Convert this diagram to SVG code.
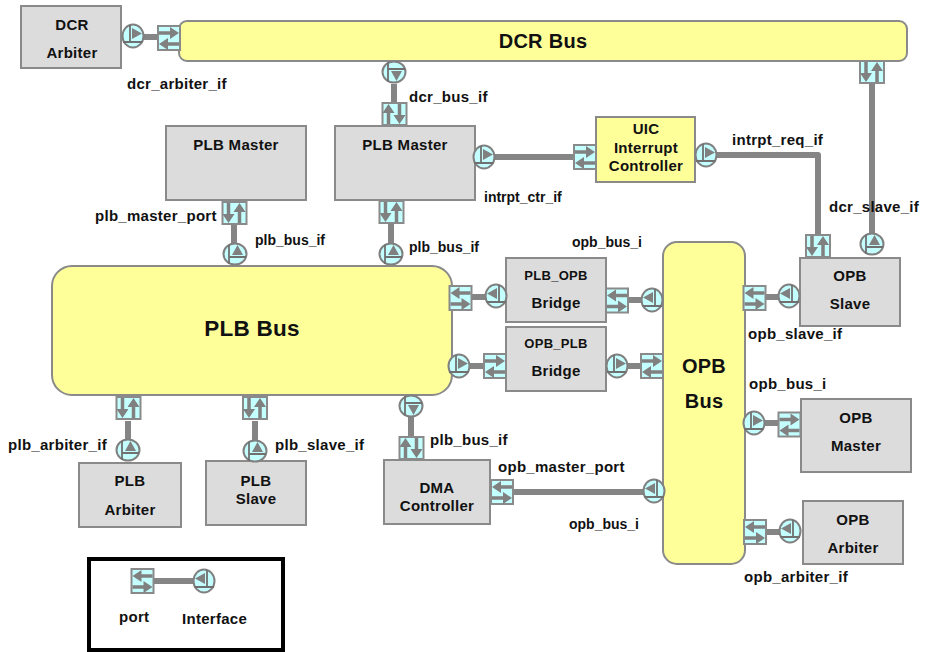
<svg xmlns="http://www.w3.org/2000/svg" xmlns:xlink="http://www.w3.org/1999/xlink" width="926" height="652" viewBox="0 0 926 652">
<style>
text{font-family:"Liberation Sans",Arial,Helvetica,sans-serif;font-weight:bold;font-size:15px;letter-spacing:.28px;fill:#111}
text.s{font-size:14px;letter-spacing:0}
.m{text-anchor:middle}
.box{fill:#dcdcdc;stroke:#8a8a8a;stroke-width:2}
.bus{fill:#ffff99;stroke:#8a8a8a;stroke-width:2}
.c{fill:none;stroke:#858585;stroke-width:6;stroke-linejoin:round}
.pb{fill:#c4ffff;stroke:#8a8a8a;stroke-width:2}
.ar{fill:none;stroke:#808080;stroke-width:3.500}
.ah{fill:#808080;stroke:none}
.ib{fill:#c4ffff;stroke:#808080;stroke-width:2}
.il{fill:none;stroke:#707070;stroke-width:1.800}
</style>
<defs>
<g id="pr"><rect class="pb" x="-11" y="-12" width="22" height="24"/><path class="ar" d="M-10,-5H3M10,6H-3"/><path class="ah" d="M1,-11L10,-5L1,1ZM-1,0L-10,6L-1,12Z"/></g>
<g id="pl"><use xlink:href="#pr" transform="scale(-1,1)"/></g>
<g id="ir"><ellipse class="ib" cx="0" cy="0" rx="10.500" ry="11.500"/><path class="ah" d="M-1,-8L9,-2.500L-1,3Z"/><path class="il" d="M-3,-11V6M-10,6H9.500"/></g>
<g id="il"><use xlink:href="#ir" transform="scale(-1,1)"/></g>
</defs>

<g id="connectors">
<path class="c" d="M143,37H158"/>
<path class="c" d="M394,84V102"/>
<path class="c" d="M494,157H574"/>
<path class="c" d="M716,155H818V234"/>
<path class="c" d="M872,84V233"/>
<path class="c" d="M234,225V243"/>
<path class="c" d="M391,224V243"/>
<path class="c" d="M472,297H486"/>
<path class="c" d="M628,300H642"/>
<path class="c" d="M469,366H484"/>
<path class="c" d="M627,366H641"/>
<path class="c" d="M766,297H778"/>
<path class="c" d="M128,421V439"/>
<path class="c" d="M255,421V440"/>
<path class="c" d="M411,417V436"/>
<path class="c" d="M513,492H644"/>
<path class="c" d="M765,423H778"/>
<path class="c" d="M766,532H780"/>
<path class="c" d="M154,581H194"/>
</g>

<g id="dcr-arbiter"><rect class="box" x="21" y="6" width="100" height="62"/><text class="m" x="72" y="30">DCR</text><text class="m" x="72" y="58">Arbiter</text></g>
<g id="dcr-bus"><rect class="bus" x="179" y="21" width="728" height="40" rx="8"/><text class="m" x="543" y="48" style="font-size:20px">DCR Bus</text></g>
<g id="plb-master-1"><rect class="box" x="166" y="126" width="140" height="74"/><text class="m" x="236" y="150">PLB Master</text></g>
<g id="plb-master-2"><rect class="box" x="335" y="126" width="140" height="74"/><text class="m" x="405" y="150">PLB Master</text></g>
<g id="uic"><rect class="bus" x="596" y="117" width="99" height="65"/><text class="m" x="646" y="134">UIC</text><text class="m" x="646" y="153">Interrupt</text><text class="m" x="646" y="171">Controller</text></g>
<g id="plb-bus"><rect class="bus" x="52" y="266" width="400" height="129" rx="20"/><text class="m" x="252" y="336" style="font-size:22.500px">PLB Bus</text></g>
<g id="plb-opb"><rect class="box" x="506" y="258" width="100" height="64"/><text class="m" x="556" y="280" style="font-size:13px">PLB_OPB</text><text class="m" x="556" y="308">Bridge</text></g>
<g id="opb-plb"><rect class="box" x="506" y="327" width="100" height="64"/><text class="m" x="556" y="348" style="font-size:13px">OPB_PLB</text><text class="m" x="556" y="376">Bridge</text></g>
<g id="opb-bus"><rect class="bus" x="663" y="242" width="82" height="322" rx="14"/><text class="m" x="704" y="373" style="font-size:20px">OPB</text><text class="m" x="704" y="408" style="font-size:20px">Bus</text></g>
<g id="opb-slave"><rect class="box" x="800" y="258" width="100" height="68"/><text class="m" x="850" y="281">OPB</text><text class="m" x="850" y="309">Slave</text></g>
<g id="opb-master"><rect class="box" x="801" y="399" width="110" height="73"/><text class="m" x="856" y="423">OPB</text><text class="m" x="856" y="451">Master</text></g>
<g id="opb-arbiter"><rect class="box" x="803" y="501" width="100" height="63"/><text class="m" x="853" y="525">OPB</text><text class="m" x="853" y="553">Arbiter</text></g>
<g id="plb-arbiter"><rect class="box" x="79" y="463" width="102" height="64"/><text class="m" x="130" y="486">PLB</text><text class="m" x="130" y="515">Arbiter</text></g>
<g id="plb-slave"><rect class="box" x="206" y="461" width="100" height="64"/><text class="m" x="256" y="486">PLB</text><text class="m" x="256" y="504">Slave</text></g>
<g id="dma"><rect class="box" x="384" y="460" width="106" height="64"/><text class="m" x="437" y="493">DMA</text><text class="m" x="437" y="511">Controller</text></g>
<g id="legend"><rect x="89" y="559" width="194" height="91" fill="none" stroke="#000" stroke-width="4"/><text x="119" y="622">port</text><text x="182" y="624">Interface</text></g>

<g id="ports">
<use xlink:href="#pr" transform="translate(169,38)"/>
<use xlink:href="#pr" transform="translate(394.500,114) rotate(90)"/>
<use xlink:href="#pr" transform="translate(585,157)"/>
<use xlink:href="#pl" transform="translate(872,72) rotate(90)"/>
<use xlink:href="#pl" transform="translate(818,246) rotate(90)"/>
<use xlink:href="#pl" transform="translate(234.500,213) rotate(90)"/>
<use xlink:href="#pl" transform="translate(391.500,212) rotate(90)"/>
<use xlink:href="#pl" transform="translate(460.500,298)"/>
<use xlink:href="#pl" transform="translate(617,300.500)"/>
<use xlink:href="#pr" transform="translate(495,366)"/>
<use xlink:href="#pr" transform="translate(652,366)"/>
<use xlink:href="#pl" transform="translate(754.500,298)"/>
<use xlink:href="#pl" transform="translate(128.500,408) rotate(90)"/>
<use xlink:href="#pl" transform="translate(255,408) rotate(90)"/>
<use xlink:href="#pr" transform="translate(411.500,448) rotate(90)"/>
<use xlink:href="#pl" transform="translate(502,492)"/>
<use xlink:href="#pr" transform="translate(789.500,424.500)"/>
<use xlink:href="#pl" transform="translate(755,532)"/>
<use xlink:href="#pl" transform="translate(142.500,581)"/>
</g>

<g id="interfaces">
<use xlink:href="#ir" transform="translate(133,36)"/>
<use xlink:href="#ir" transform="translate(394,72) rotate(90)"/>
<use xlink:href="#ir" transform="translate(484,157)"/>
<use xlink:href="#ir" transform="translate(706,155)"/>
<use xlink:href="#il" transform="translate(872,244) rotate(90)"/>
<use xlink:href="#il" transform="translate(235,254) rotate(90)"/>
<use xlink:href="#il" transform="translate(391,254) rotate(90)"/>
<use xlink:href="#il" transform="translate(496,296)"/>
<use xlink:href="#il" transform="translate(652,300)"/>
<use xlink:href="#ir" transform="translate(459,366)"/>
<use xlink:href="#ir" transform="translate(617,366)"/>
<use xlink:href="#il" transform="translate(789,296)"/>
<use xlink:href="#il" transform="translate(128,450) rotate(90)"/>
<use xlink:href="#il" transform="translate(255,451) rotate(90)"/>
<use xlink:href="#ir" transform="translate(411,406) rotate(90)"/>
<use xlink:href="#il" transform="translate(654,491)"/>
<use xlink:href="#ir" transform="translate(754,423)"/>
<use xlink:href="#il" transform="translate(790,531)"/>
<use xlink:href="#il" transform="translate(204,581)"/>
</g>

<g id="labels">
<text x="127" y="89">dcr_arbiter_if</text>
<text x="409" y="102">dcr_bus_if</text>
<text x="95" y="221">plb_master_port</text>
<text class="s" x="255" y="245">plb_bus_if</text>
<text class="s" x="409" y="252">plb_bus_if</text>
<text class="s" x="484" y="202">intrpt_ctr_if</text>
<text x="732" y="145">intrpt_req_if</text>
<text x="829" y="212">dcr_slave_if</text>
<text class="s" x="572" y="247">opb_bus_i</text>
<text x="748" y="339">opb_slave_if</text>
<text x="749" y="389">opb_bus_i</text>
<text x="8" y="450">plb_arbiter_if</text>
<text x="275" y="450">plb_slave_if</text>
<text x="430" y="445">plb_bus_if</text>
<text x="498" y="472">opb_master_port</text>
<text class="s" x="569" y="529">opb_bus_i</text>
<text x="744" y="582">opb_arbiter_if</text>
</g>
</svg>
